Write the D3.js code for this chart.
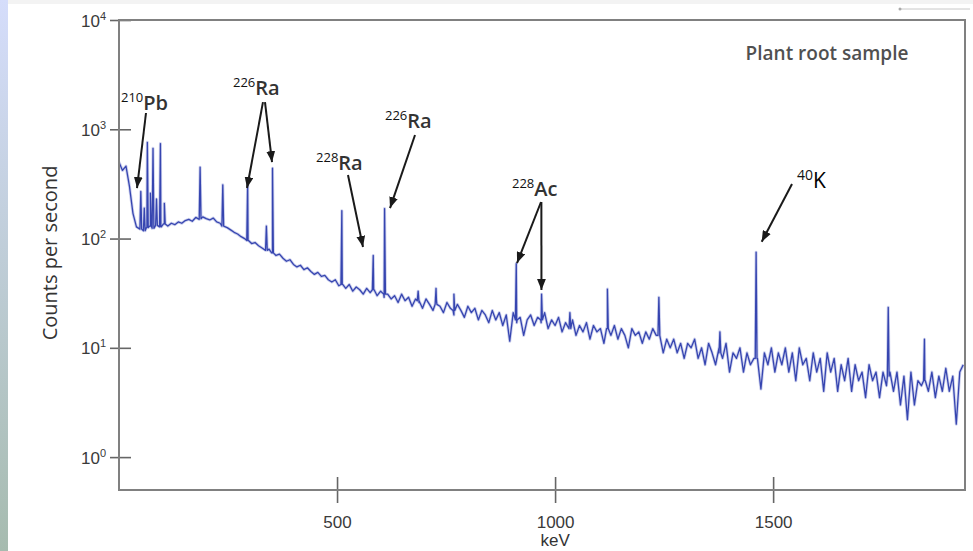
<!DOCTYPE html>
<html>
<head>
<meta charset="utf-8">
<script src="https://cdn.jsdelivr.net/npm/d3@7"></script>
<style>
body{margin:0;background:#fff;}
svg{display:block;}
</style>
</head>
<body>
<svg id="chart" width="973" height="551"></svg>
<script>
// spectrum continuum, one value per 8 keV channel (counts per second)
const binKeV=8;
const counts=[
    500,420,460,300,170,128,122,118,126,130,124,132,128,136,130,138,
    134,142,138,146,150,144,156,150,158,152,148,154,142,138,130,126,
    120,114,110,104,100,96,90,92,86,82,78,80,74,70,72,66,
    62,64,58,55,57,52,54,50,47,49,45,46,42,40,42,37,
    38,35,38,33,36,34,31,35,32,34,30,33,29,31,28,30,
    26,31,27,29,24,28,26,23,28,25,22,27,24,21,26,23,
    20,25,22,19,24,21,23,18,22,20,17,22,18,21,16,20,
    11.5,21,17,19,13,18,20,16,19,17,21,15,18,16,19,14,
    17,15,18,13,16,14,17,12,16,14,15,11,15,13,16,12,
    15,13,10,15,13,14,11,14,12,15,13,14,9,12,10,12,
    9,11,8,11,10,12,8,10,7,11,9,7,10,8,11,6,
    9,8,10,6,9,7,8,8,4.2,9,7,10,6,9,7,10,
    6,9,5,10,7,8,5,9,6,8,4,9,6,8,4,7,
    5,8,4,7,5,6,3.5,7,5,6,3.5,6,4.5,6,4,6,
    3,5.5,2.2,6,3,5,4.5,5,4,6,3.5,5.5,4,6.5,4,5.5,
    2,6,7
];

// gamma lines: energy, top and foot of each peak
const peakKeV =[50,58,65,72,78,86,95,104,186,238,295,338,352,511,583,609,686,727,768,911,969,1034,1120,1238,1378,1461,1764,1847];
const peakTop =[270,190,760,260,670,230,740,210,450,310,320,130,440,180,70,188,33,35,31,59,31,21,34.5,29,14,75,23.5,12];
const peakBase=[122,118,126,130,124,132,128,136,152,130,96,78,74,38,34,31,27,25,22,18,18,15,15,13,9,8,5.5,5];

const xTicks=[500,1000,1500];
const yTicks=[1,10,100,1000,10000];
const yTickExp=["0","1","2","3","4"];

// isotope labels, anchored in data units [keV, cps]
const annotations=[
    {mass:"210",sym:"Pb",at:[4.6,1500],arrows:[[[61.9,1409],[41.3,290]]]},
    {mass:"226",sym:"Ra",at:[261.4,2056],arrows:[[[330.2,1774],[293.5,290]],[[334.8,1774],[350.9,501]]]},
    {mass:"228",sym:"Ra",at:[451.8,424],arrows:[[[525.1,382],[559.5,83.7]]]},
    {mass:"226",sym:"Ra",at:[610,1028],arrows:[[[678.8,887],[621.5,190]]]},
    {mass:"228",sym:"Ac",at:[901.2,245],arrows:[[[967.7,216],[912.7,59.7]],[[968.5,216],[968.8,33.8]]]},
    {mass:"40",sym:"K",at:[1554.8,290],arrows:[[[1543.3,316],[1473.8,93.5]]],plain:true}
];

const svg=d3.select("#chart");
const margin={top:20,right:8,bottom:61,left:119};
const width=+svg.attr("width")-margin.left-margin.right;
const height=+svg.attr("height")-margin.top-margin.bottom;

// slide decoration at the left edge
const defs=svg.append("defs");
const grad=defs.append("linearGradient").attr("id","strip").attr("x1",0).attr("y1",0).attr("x2",0).attr("y2",1);
grad.append("stop").attr("offset","0%").attr("stop-color","#d5ddfb");
grad.append("stop").attr("offset","100%").attr("stop-color","#a6bbaf");
svg.append("rect").attr("x",0).attr("y",0).attr("width",8).attr("height",551).attr("fill","url(#strip)");
svg.append("rect").attr("x",8).attr("y",0).attr("width",965).attr("height",4).attr("fill","#f3f3f3");
svg.append("line").attr("x1",900).attr("x2",970).attr("y1",9).attr("y2",9).attr("stroke","#c8c8c8");
svg.append("circle").attr("cx",900).attr("cy",9).attr("r",1.5).attr("fill","#aaa");

defs.append("marker")
    .attr("id","head")
    .attr("markerUnits","userSpaceOnUse")
    .attr("viewBox","0 0 10 8")
    .attr("refX",10).attr("refY",4)
    .attr("markerWidth",11).attr("markerHeight",9)
    .attr("orient","auto")
    .append("path").attr("d","M0,0L10,4L0,8z").attr("fill","#1a1a1a");

defs.append("clipPath").attr("id","plot")
    .append("rect").attr("width",width).attr("height",height);

const g=svg.append("g").attr("transform",`translate(${margin.left},${margin.top})`);

const x=d3.scaleLinear().domain([0,1940]).range([0,width]);
const y=d3.scaleLog().domain([0.5,1e4]).range([height,0]);

// merge continuum channels and peaks into one spectrum
const spectrum=counts.map((c,i)=>({e:i*binKeV,c:c}));
peakKeV.forEach((e,i)=>{
    spectrum.push({e:e-2,c:peakBase[i]},{e:e,c:peakTop[i]},{e:e+2,c:peakBase[i]});
});
spectrum.sort((a,b)=>a.e-b.e);

const line=d3.line().x(d=>x(d.e)).y(d=>y(d.c));

// soft halo under the trace, like the blurred scan
g.append("path")
    .datum(spectrum)
    .attr("clip-path","url(#plot)")
    .attr("d",line)
    .attr("fill","none")
    .attr("stroke","#8d97d6")
    .attr("stroke-width",3)
    .attr("stroke-opacity",0.45)
    .attr("stroke-linejoin","round");

g.append("path")
    .datum(spectrum)
    .attr("clip-path","url(#plot)")
    .attr("d",line)
    .attr("fill","none")
    .attr("stroke","#3645b0")
    .attr("stroke-width",1.3)
    .attr("stroke-linejoin","round");

// axes
const xAxis=g.append("g")
    .attr("transform",`translate(0,${height})`)
    .call(d3.axisBottom(x).tickValues(xTicks).tickFormat(d3.format("d")));
xAxis.select(".domain").remove();
xAxis.selectAll(".tick line").attr("y1",-13).attr("y2",13).attr("stroke","#666").attr("stroke-width",1.6);
xAxis.selectAll(".tick text").attr("y",38).attr("dy",null)
    .attr("font-family","'Liberation Sans',Arial,sans-serif").attr("font-size",17).attr("fill","#3a3a3a");

const yAxis=g.append("g")
    .call(d3.axisLeft(y).tickValues(yTicks).tickFormat(()=>""));
yAxis.select(".domain").remove();
yAxis.selectAll(".tick line").attr("x1",-9).attr("x2",12).attr("stroke","#666").attr("stroke-width",1.6);
yAxis.selectAll(".tick text").each(function(d,i){
    const t=d3.select(this).attr("x",-13).attr("dy",null).attr("y",6)
        .attr("font-family","'Liberation Sans',Arial,sans-serif").attr("font-size",17).attr("fill","#3a3a3a");
    t.append("tspan").text("10");
    t.append("tspan").attr("font-size",11).attr("dy",-7).text(yTickExp[i]);
});

// frame
g.append("rect")
    .attr("width",width).attr("height",height)
    .attr("fill","none").attr("stroke","#808080").attr("stroke-width",2);

// axis titles
svg.append("text")
    .attr("transform","translate(57,253) rotate(-90)")
    .attr("text-anchor","middle")
    .attr("font-family","'Open Sans',sans-serif").attr("font-size",20).attr("fill","#333")
    .text("Counts per second");
svg.append("text")
    .attr("x",margin.left+x(1000)).attr("y",546)
    .attr("text-anchor","middle")
    .attr("font-family","'Liberation Sans',Arial,sans-serif").attr("font-size",17).attr("fill","#333")
    .text("keV");

g.append("text")
    .attr("x",x(1623.6)).attr("y",y(4295))
    .attr("text-anchor","middle")
    .attr("font-family","'Open Sans',sans-serif").attr("font-size",19).attr("font-weight",600).attr("fill","#505050")
    .text("Plant root sample");

// isotope labels and arrows
annotations.forEach(a=>{
    a.arrows.forEach(ar=>{
        g.append("line")
            .attr("x1",x(ar[0][0])).attr("y1",y(ar[0][1]))
            .attr("x2",x(ar[1][0])).attr("y2",y(ar[1][1]))
            .attr("stroke","#1a1a1a").attr("stroke-width",2)
            .attr("marker-end","url(#head)");
    });
    const t=g.append("text")
        .attr("x",x(a.at[0])).attr("y",y(a.at[1]))
        .attr("font-family","'Open Sans',sans-serif");
    t.append("tspan").attr("font-size",a.plain?14:13).attr("dy",-8).attr("fill","#111").text(a.mass);
    t.append("tspan").attr("font-size",a.plain?21:20).attr("dy",8)
        .attr("font-weight",a.plain?400:600).attr("fill",a.plain?"#000":"#333").text(a.sym);
});
</script>
</body>
</html>
